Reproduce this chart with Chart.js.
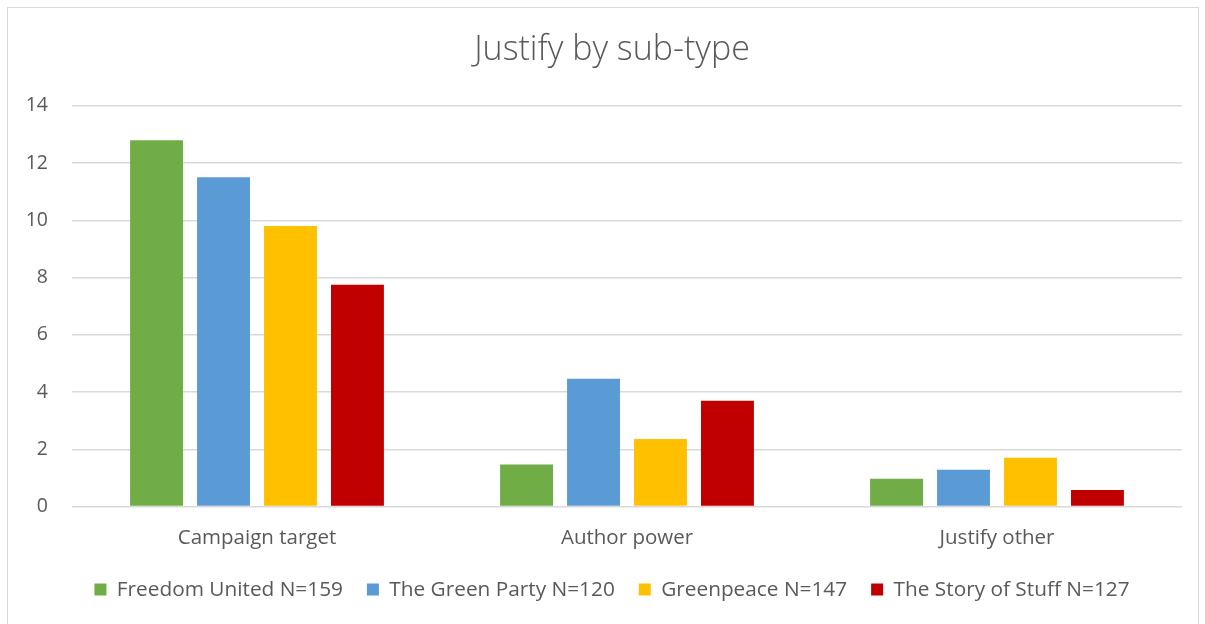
<!DOCTYPE html>
<html>
<head>
<meta charset="utf-8">
<script src="https://cdn.jsdelivr.net/npm/chart.js@4.4.0/dist/chart.umd.min.js"></script>
<style>
  html, body { margin: 0; padding: 0; background: #fff; }
  #wrap { position: relative; width: 1205px; height: 624px; }
  #frame { position: absolute; left: 7px; top: 7px; width: 1192px; height: 620px; border: 1px solid #d9d9d9; box-sizing: border-box; pointer-events: none; }
  canvas { position: absolute; left: 0; top: 0; }
</style>
</head>
<body>
<div id="wrap">
  <canvas id="myChart" width="1205" height="624"></canvas>
  <div id="frame"></div>
</div>
<script>
var categories = ["Campaign target", "Author power", "Justify other"];
var seriesNames = ["Freedom United N=159", "The Green Party N=120", "Greenpeace N=147", "The Story of Stuff N=127"];
var freedomUnited = [12.8, 1.47, 0.97];
var greenParty = [11.5, 4.47, 1.29];
var greenpeace = [9.8, 2.36, 1.71];
var storyOfStuff = [7.75, 3.7, 0.58];
var colors = ["#70ad47", "#5b9bd5", "#ffc000", "#c00000"];
var yTicks = [0, 2, 4, 6, 8, 10, 12, 14];

var font = "'Open Sans', Lato, sans-serif";
var textColor = "#595959";

var values = [freedomUnited, greenParty, greenpeace, storyOfStuff];
var datasets = [];
for (var i = 0; i < seriesNames.length; i++) {
  datasets.push({
    label: seriesNames[i],
    data: values[i],
    yAxisID: "y",
    backgroundColor: colors[i],
    borderWidth: 0,
    barPercentage: 0.79,
    categoryPercentage: 0.724
  });
}

var ctx = document.getElementById("myChart");
var myChart = new Chart(ctx, {
  type: "bar",
  data: { labels: categories, datasets: datasets },
  options: {
    responsive: false,
    animation: false,
    layout: { padding: { left: 19, right: 0, top: 0, bottom: 14 } },
    plugins: {
      title: {
        display: true,
        text: "Justify by sub-type",
        color: textColor,
        font: { family: font, size: 34, weight: "300" },
        padding: { top: 30, bottom: 35 }
      },
      legend: {
        position: "bottom",
        labels: {
          color: textColor,
          font: { family: font, size: 20.8 },
          boxWidth: 12,
          boxHeight: 12,
          padding: 24
        }
      },
      tooltip: { enabled: false }
    },
    scales: {
      x: {
        grid: { display: false },
        border: { display: false },
        afterFit: function (s) { s.height = s.height - 6; },
        ticks: { color: textColor, font: { family: font, size: 20.5 }, padding: 11 }
      },
      y: {
        min: 0,
        max: 14,
        afterFit: function (s) { s.width = 53; },
        afterBuildTicks: function (s) { s.ticks = yTicks.map(function (v) { return { value: v }; }); },
        grid: { color: "#d9d9d9", lineWidth: 1.5, drawTicks: false },
        border: { display: false },
        ticks: { color: textColor, font: { family: font, size: 19.5 }, padding: 24 }
      },
      y2: {
        position: "right",
        min: 0,
        max: 14,
        afterFit: function (s) { s.width = 23; },
        grid: { display: false },
        border: { display: false },
        ticks: { display: false }
      }
    }
  }
});
</script>
</body>
</html>
